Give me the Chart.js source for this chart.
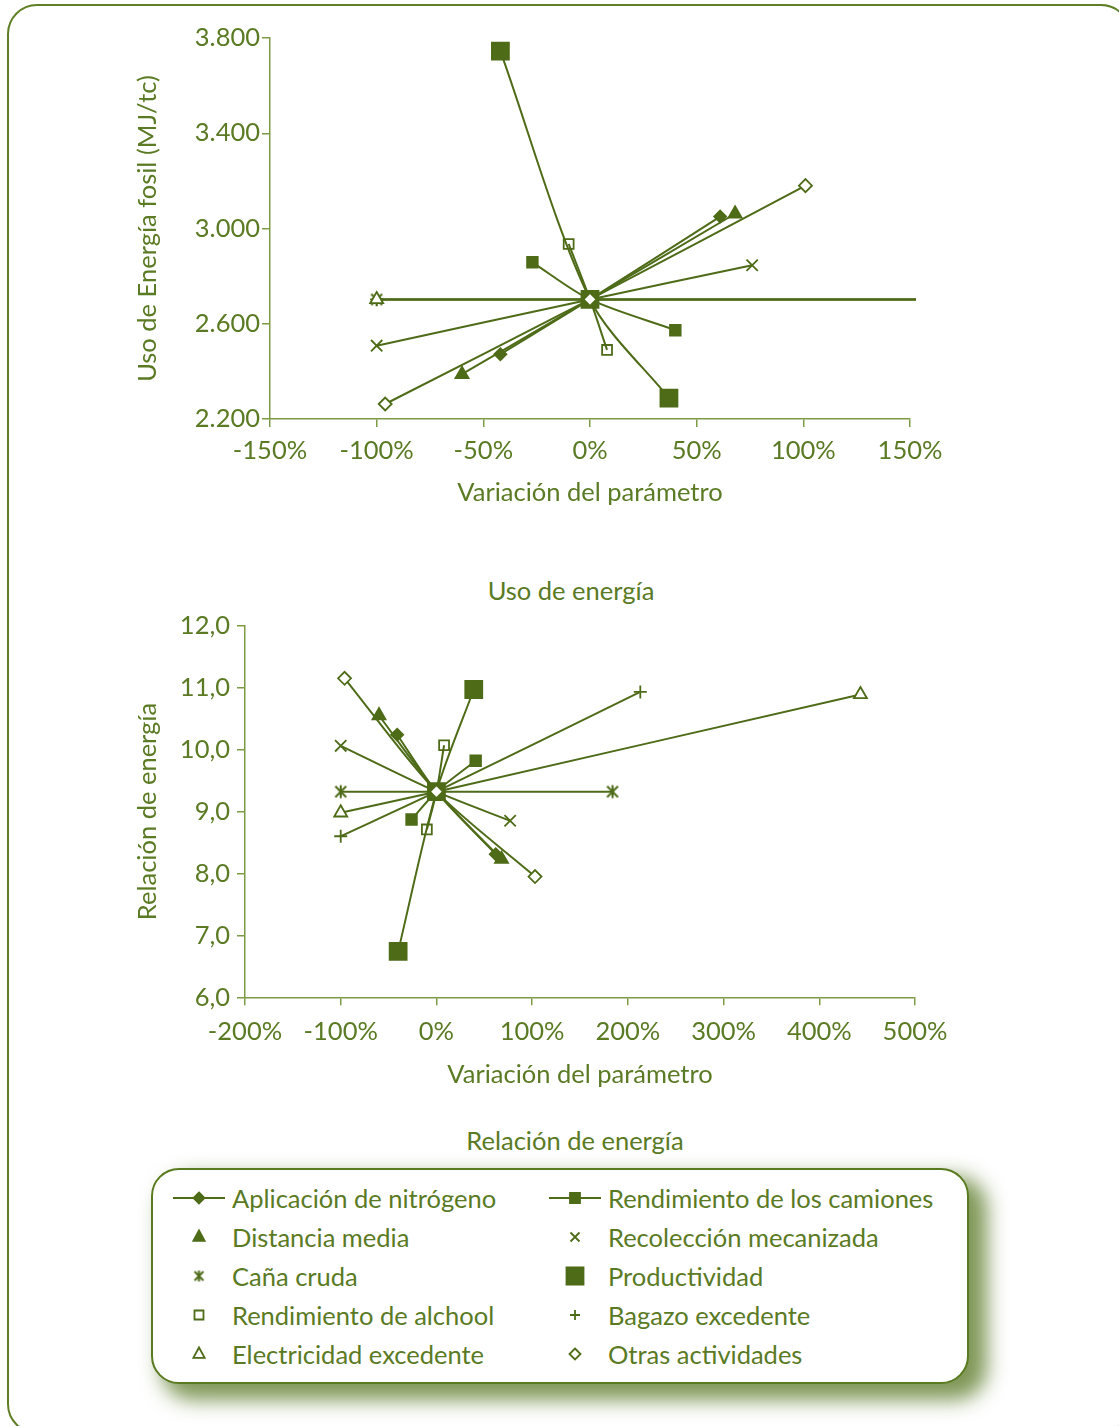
<!DOCTYPE html>
<html>
<head>
<meta charset="utf-8">
<script src="https://cdn.jsdelivr.net/npm/chart.js"></script>
<style>
  html, body { margin: 0; padding: 0; background: #fff; }
  body { width: 1119px; height: 1426px; overflow: hidden; position: relative; font-family: Lato, "Open Sans", sans-serif; color: #5a7a24; }
  #frame { position: absolute; left: 7px; top: 4px; width: 1124px; height: 1430px; border: 2px solid #5f7f24; border-radius: 30px; box-sizing: border-box; }
  canvas { position: absolute; left: 0; }
  .caption { position: absolute; font-size: 25.5px; line-height: 30px; transform: translateX(-50%); white-space: nowrap; }
  #legend { position: absolute; left: 151px; top: 1168px; width: 818px; height: 216px; border: 2px solid #5a7a20; border-radius: 28px; box-sizing: border-box; background: #fff; box-shadow: 14px 12px 20px 4px rgba(95, 125, 45, 0.8); }
  .lg-icon { position: absolute; }
  .lg-text { position: absolute; font-size: 25.5px; line-height: 30px; white-space: nowrap; }
</style>
</head>
<body>
<div id="frame"></div>
<canvas id="usoChart" width="1119" height="512" style="top:0px"></canvas>
<div class="caption" style="left:571px; top:575px">Uso de energía</div>
<canvas id="relChart" width="1119" height="494" style="top:600px"></canvas>
<div class="caption" style="left:575px; top:1125px">Relación de energía</div>
<div id="legend"></div>
<div id="legendItems"></div>

<script>
// series (Excel order)
const seriesNames = ['Aplicación de nitrógeno', 'Rendimiento de los camiones', 'Distancia media', 'Recolección mecanizada',
  'Caña cruda', 'Productividad', 'Rendimiento de alchool', 'Bagazo excedente', 'Electricidad excedente', 'Otras actividades'];

// uso de energía fosil (MJ/tc): base case and [low, high] variation of each parameter
const usoBase = 2702;
const usoVarX = [[-42, 61], [-27, 40], [-60, 68], [-100, 76], [-100, 185], [-42, 37], [-10, 8], [-100, 214], [-100, 443], [-96, 101]];
const usoVals = [[2472, 3050], [2858, 2573], [2388, 3062], [2508, 2846], [2702, 2702], [3745, 2288], [2935, 2490], [2702, 2702], [2702, 2702], [2263, 3180]];

// relación de energía
const relBase = 9.32;
const relVarX = [[-41, 62], [-26, 41], [-60, 68], [-100, 77], [-100, 184], [-40, 39], [-10, 8], [-100, 213], [-100, 443], [-96, 103]];
const relVals = [[10.24, 8.31], [8.87, 9.82], [10.55, 8.23], [10.06, 8.85], [9.32, 9.32], [6.74, 10.97], [8.71, 10.07], [8.60, 10.93], [8.98, 10.89], [11.15, 7.95]];

// ticks
const usoTicksY = [2200, 3800, 400];
const usoTicksX = [-150, 150, 50];
const relTicksY = [6, 12, 1];
const relTicksX = [-200, 500, 100];

const lineColor = '#4e6b18';
const textColor = '#5a7a24';
const axisColor = '#7d9a45';
const fontSize = 25.5;

// marker looks
const markerStyle = ['rectRot', 'rect', 'triangle', 'crossRot', 'asterisk', 'rect', 'rect', 'cross', 'triangle', 'rectRot'];
const markerRadius = [6, 7.5, 7.5, 8, 7, 12, 7, 6.5, 7.5, 6.5];
const markerFill = [lineColor, lineColor, lineColor, lineColor, lineColor, lineColor, 'rgba(0,0,0,0)', lineColor, '#ffffff', '#ffffff'];
const drawOrder = [9, 8, 7, 6, 5, 1, 4, 3, 2, 0];

// asterisk marker (ж) as image
function asteriskImg(size) {
  const c = document.createElement('canvas');
  c.width = size; c.height = size;
  const g = c.getContext('2d');
  g.strokeStyle = lineColor;
  g.lineWidth = 2;
  const m = size / 2, d = size * 0.34;
  g.beginPath();
  g.moveTo(m - d, m - d); g.lineTo(m + d, m + d);
  g.moveTo(m + d, m - d); g.lineTo(m - d, m + d);
  g.moveTo(m, m - d - 1); g.lineTo(m, m + d + 1);
  g.stroke();
  return c;
}
const asterisk = asteriskImg(16);

Chart.defaults.font.family = 'Lato, "Open Sans", sans-serif';
Chart.defaults.color = textColor;

function buildDatasets(base, varX, vals) {
  return seriesNames.map((name, i) => {
    const pts = [
      { x: varX[i][0], y: vals[i][0] },
      { x: 0, y: base },
      { x: varX[i][1], y: vals[i][1] }
    ].sort((a, b) => a.x - b.x);
    return {
      label: name,
      data: pts,
      showLine: true,
      tension: 0.3,
      borderColor: lineColor,
      borderWidth: 2,
      pointStyle: markerStyle[i] === 'asterisk' ? asterisk : markerStyle[i],
      pointRadius: markerRadius[i],
      pointBackgroundColor: markerFill[i],
      pointBorderColor: lineColor,
      pointBorderWidth: 1.8,
      order: drawOrder[i],
      clip: { left: 12, top: 12, right: 6, bottom: 12 }
    };
  });
}

function makeChart(id, cfg) {
  const ctx = document.getElementById(id).getContext('2d');
  return new Chart(ctx, {
    type: 'scatter',
    data: { datasets: buildDatasets(cfg.base, cfg.varX, cfg.vals) },
    options: {
      responsive: false,
      animation: false,
      events: [],
      layout: { padding: cfg.padding },
      plugins: { legend: { display: false }, tooltip: { enabled: false } },
      scales: {
        x: {
          type: 'linear',
          min: cfg.ticksX[0], max: cfg.ticksX[1],
          afterFit: s => { s.height = cfg.xHeight; },
          ticks: {
            stepSize: cfg.ticksX[2],
            padding: cfg.xTickPad,
            color: textColor,
            font: { size: fontSize, lineHeight: 1.2 },
            maxRotation: 0,
            callback: v => v + '%'
          },
          grid: { drawOnChartArea: false, drawTicks: true, tickLength: 8, color: axisColor, lineWidth: 1.5 },
          border: { color: axisColor, width: 1.5 },
          title: {
            display: true,
            text: 'Variación del parámetro',
            color: textColor,
            font: { size: fontSize, lineHeight: 1.2 },
            padding: { top: 0, bottom: cfg.xTitlePad }
          }
        },
        y: {
          type: 'linear',
          min: cfg.ticksY[0], max: cfg.ticksY[1],
          afterFit: s => { s.width = cfg.yWidth; },
          ticks: {
            stepSize: cfg.ticksY[2],
            padding: cfg.yTickPad,
            color: textColor,
            font: { size: fontSize, lineHeight: 1.2 },
            callback: cfg.yFormat
          },
          grid: { drawOnChartArea: false, drawTicks: true, tickLength: 8, color: axisColor, lineWidth: 1.5 },
          border: { color: axisColor, width: 1.5 },
          title: {
            display: true,
            text: cfg.yTitle,
            color: textColor,
            font: { size: fontSize, lineHeight: 1.2 },
            padding: { top: 148 - fontSize * 0.6, bottom: 0 }
          }
        }
      }
    }
  });
}

makeChart('usoChart', {
  base: usoBase, varX: usoVarX, vals: usoVals,
  ticksX: usoTicksX, ticksY: usoTicksY,
  padding: { top: 38, bottom: 3, left: 0, right: 209 },
  xHeight: 90, xTickPad: 8.7, xTitlePad: 0.7, yWidth: 270, yTickPad: 2,
  yTitle: 'Uso de Energía fosil (MJ/tc)',
  yFormat: v => (v / 1000).toFixed(3)
});

makeChart('relChart', {
  base: relBase, varX: relVarX, vals: relVals,
  ticksX: relTicksX, ticksY: relTicksY,
  padding: { top: 25.7, bottom: 2.7, left: 0, right: 204 },
  xHeight: 94, xTickPad: 11.4, xTitlePad: 1, yWidth: 245, yTickPad: 7,
  yTitle: 'Relación de energía',
  yFormat: v => v.toFixed(1).replace('.', ',')
});

// legend
function drawIcon(g, i, cx, cy, withLine) {
  g.strokeStyle = lineColor;
  g.fillStyle = markerFill[i] === '#ffffff' || markerFill[i].startsWith('rgba') ? '#ffffff' : lineColor;
  g.lineWidth = 1.8;
  if (withLine) {
    g.beginPath(); g.moveTo(cx - 26, cy); g.lineTo(cx + 26, cy); g.stroke();
  }
  const st = markerStyle[i];
  g.beginPath();
  if (st === 'rectRot') {
    const r = 5.5;
    g.moveTo(cx, cy - r); g.lineTo(cx + r, cy); g.lineTo(cx, cy + r); g.lineTo(cx - r, cy); g.closePath();
    g.fill(); g.stroke();
  } else if (st === 'rect') {
    const h = i === 5 ? 8.5 : (i === 1 ? 5 : 4.5);
    g.rect(cx - h, cy - h, 2 * h, 2 * h);
    g.fill(); g.stroke();
  } else if (st === 'triangle') {
    const r = 6.5;
    g.moveTo(cx, cy - r); g.lineTo(cx + r * 0.87, cy + r * 0.6); g.lineTo(cx - r * 0.87, cy + r * 0.6); g.closePath();
    g.fill(); g.stroke();
  } else if (st === 'crossRot') {
    const d = 4.5;
    g.moveTo(cx - d, cy - d); g.lineTo(cx + d, cy + d); g.moveTo(cx + d, cy - d); g.lineTo(cx - d, cy + d); g.stroke();
  } else if (st === 'cross') {
    const d = 5;
    g.moveTo(cx - d, cy); g.lineTo(cx + d, cy); g.moveTo(cx, cy - d); g.lineTo(cx, cy + d); g.stroke();
  } else {
    g.drawImage(asteriskImg(13), cx - 6.5, cy - 6.5);
  }
}

const legendRows = [1198, 1237, 1276, 1315, 1354];
const legendCols = [{ icon: 199, text: 232 }, { icon: 575, text: 608 }];
const holder = document.getElementById('legendItems');
seriesNames.forEach((name, i) => {
  const row = Math.floor(i / 2), col = i % 2;
  const y = legendRows[row];
  const c = document.createElement('canvas');
  c.className = 'lg-icon';
  c.width = 64; c.height = 26;
  c.style.left = (legendCols[col].icon - 32) + 'px';
  c.style.top = (y - 13) + 'px';
  drawIcon(c.getContext('2d'), i, 32, 13, row === 0);
  holder.appendChild(c);
  const t = document.createElement('div');
  t.className = 'lg-text';
  t.textContent = name;
  t.style.left = legendCols[col].text + 'px';
  t.style.top = (y - 15) + 'px';
  holder.appendChild(t);
});
</script>
</body>
</html>
